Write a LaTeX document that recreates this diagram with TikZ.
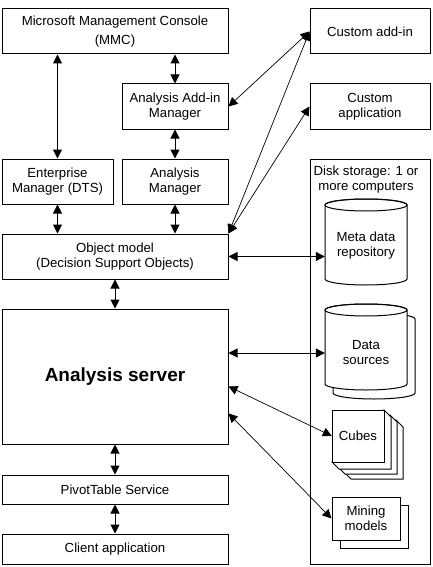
\documentclass[tikz,border=0pt]{standalone}
\usepackage{fontspec}
\setmainfont{Liberation Sans}
\usetikzlibrary{arrows.meta}

\begin{document}
\begin{tikzpicture}[
	x=1pt, y=-1pt,
	box/.style={
		rectangle,
		draw=black,
		line width=1pt,
		fill=white,
		inner sep=0pt,
		align=center,
		font=\fontsize{13.2}{15}\selectfont,
	},
	lbl/.style={
		inner sep=0pt,
		align=center,
		font=\fontsize{13.2}{15}\selectfont,
	},
	shell/.style={draw=black, line width=1pt, fill=white},
	link/.style={<->, line width=1pt},
	thinlink/.style={<->, line width=0.7pt},
	>={Triangle[length=9pt,width=9pt]},
]

\useasboundingbox (0,0) rectangle (432,567);

% left column
\node[box, minimum width=226pt, minimum height=45pt] (mmc) at (115,31.5) {Microsoft Management Console\\[4pt](MMC)};
\node[box, minimum width=106pt, minimum height=45pt] (aam) at (175,106.5) {Analysis Add-in\\Manager};
\node[box, minimum width=111pt, minimum height=45pt] (em) at (57.5,181.5) {Enterprise\\Manager (DTS)};
\node[box, minimum width=106pt, minimum height=45pt] (am) at (175,181.5) {Analysis\\Manager};
\node[box, minimum width=226pt, minimum height=45pt] (om) at (115,256.5) {Object model\\(Decision Support Objects)};
\node[box, minimum width=226pt, minimum height=135pt, font=\fontsize{19}{22}\selectfont\bfseries] (as) at (115,376.5) {Analysis server};
\node[box, minimum width=226pt, minimum height=29pt] (pts) at (115,489.5) {PivotTable Service};
\node[box, minimum width=226pt, minimum height=30pt] (ca) at (115,549) {Client application};

% right column
\node[box, minimum width=120pt, minimum height=45pt] (cai) at (370,31.5) {Custom add-in};
\node[box, minimum width=120pt, minimum height=45pt] (capp) at (370,106.5) {Custom\\application};

\node[box, minimum width=120pt, minimum height=405pt] (disk) at (370,361.5) {};
\node[lbl] (dsk) at (366,180) {Disk storage: 1 or\\more computers};

% meta data repository
\draw[shell] (325,205) -- (325,279) arc[start angle=180, end angle=0, x radius=41, y radius=6] -- (407,205) arc[start angle=0, end angle=-180, x radius=41, y radius=6] -- cycle;
\draw[line width=1pt] (366,205) ellipse [x radius=41, y radius=6];
\node[lbl, minimum width=82pt, minimum height=60pt] (mdr) at (366,246) {Meta data\\repository};

% data sources
\draw[shell] (333,319) -- (333,393) arc[start angle=180, end angle=0, x radius=41, y radius=6] -- (415,319) arc[start angle=0, end angle=-180, x radius=41, y radius=6] -- cycle;
\draw[shell] (325,310) -- (325,384) arc[start angle=180, end angle=0, x radius=41, y radius=6] -- (407,310) arc[start angle=0, end angle=-180, x radius=41, y radius=6] -- cycle;
\draw[line width=1pt] (366,310) ellipse [x radius=41, y radius=6];
\node[lbl, minimum width=82pt, minimum height=50pt] (dsr) at (366,353) {Data\\sources};

% cubes
\foreach \dx/\dy in {12/10, 6/5, 0/0} {
	\draw[shell] (384+\dx,410+\dy) -- (391+\dx,417+\dy) -- (391+\dx,469+\dy) -- (339+\dx,469+\dy) -- (332+\dx,462+\dy) -- (384+\dx,462+\dy) -- cycle;
	\draw[shell] (332+\dx,410+\dy) rectangle (384+\dx,462+\dy);
}
\node[lbl, minimum width=52pt, minimum height=52pt] (cub) at (358,436) {Cubes};

% mining models
\draw[shell] (340,505) rectangle (408,548);
\node[box, minimum width=68pt, minimum height=43pt] (mm) at (366,518.5) {Mining\\models};

% connectors
\draw[link] (em.north |- mmc.south) -- (em.north);
\draw[link] (aam.north |- mmc.south) -- (aam.north);
\draw[link] (aam.south) -- (am.north);
\draw[link] (em.south) -- (em.south |- om.north);
\draw[link] (am.south) -- (am.south |- om.north);
\draw[link] (om.south) -- (as.north);
\draw[link] (as.south) -- (pts.north);
\draw[link] (pts.south) -- (ca.north);

\draw[link] (om.east) -- (om.east -| mdr.west);
\draw[link] (as.east |- dsr.west) -- (dsr.west);
\draw[thinlink] (as.-5) -- (cub.west);
\draw[thinlink] (as.-18) -- (mm.west);

\draw[thinlink] (aam.east) -- (cai.west);
\draw[thinlink] (om.north east) -- (cai.west);
\draw[thinlink] (om.north east) -- (capp.west);

\end{tikzpicture}
\end{document}
